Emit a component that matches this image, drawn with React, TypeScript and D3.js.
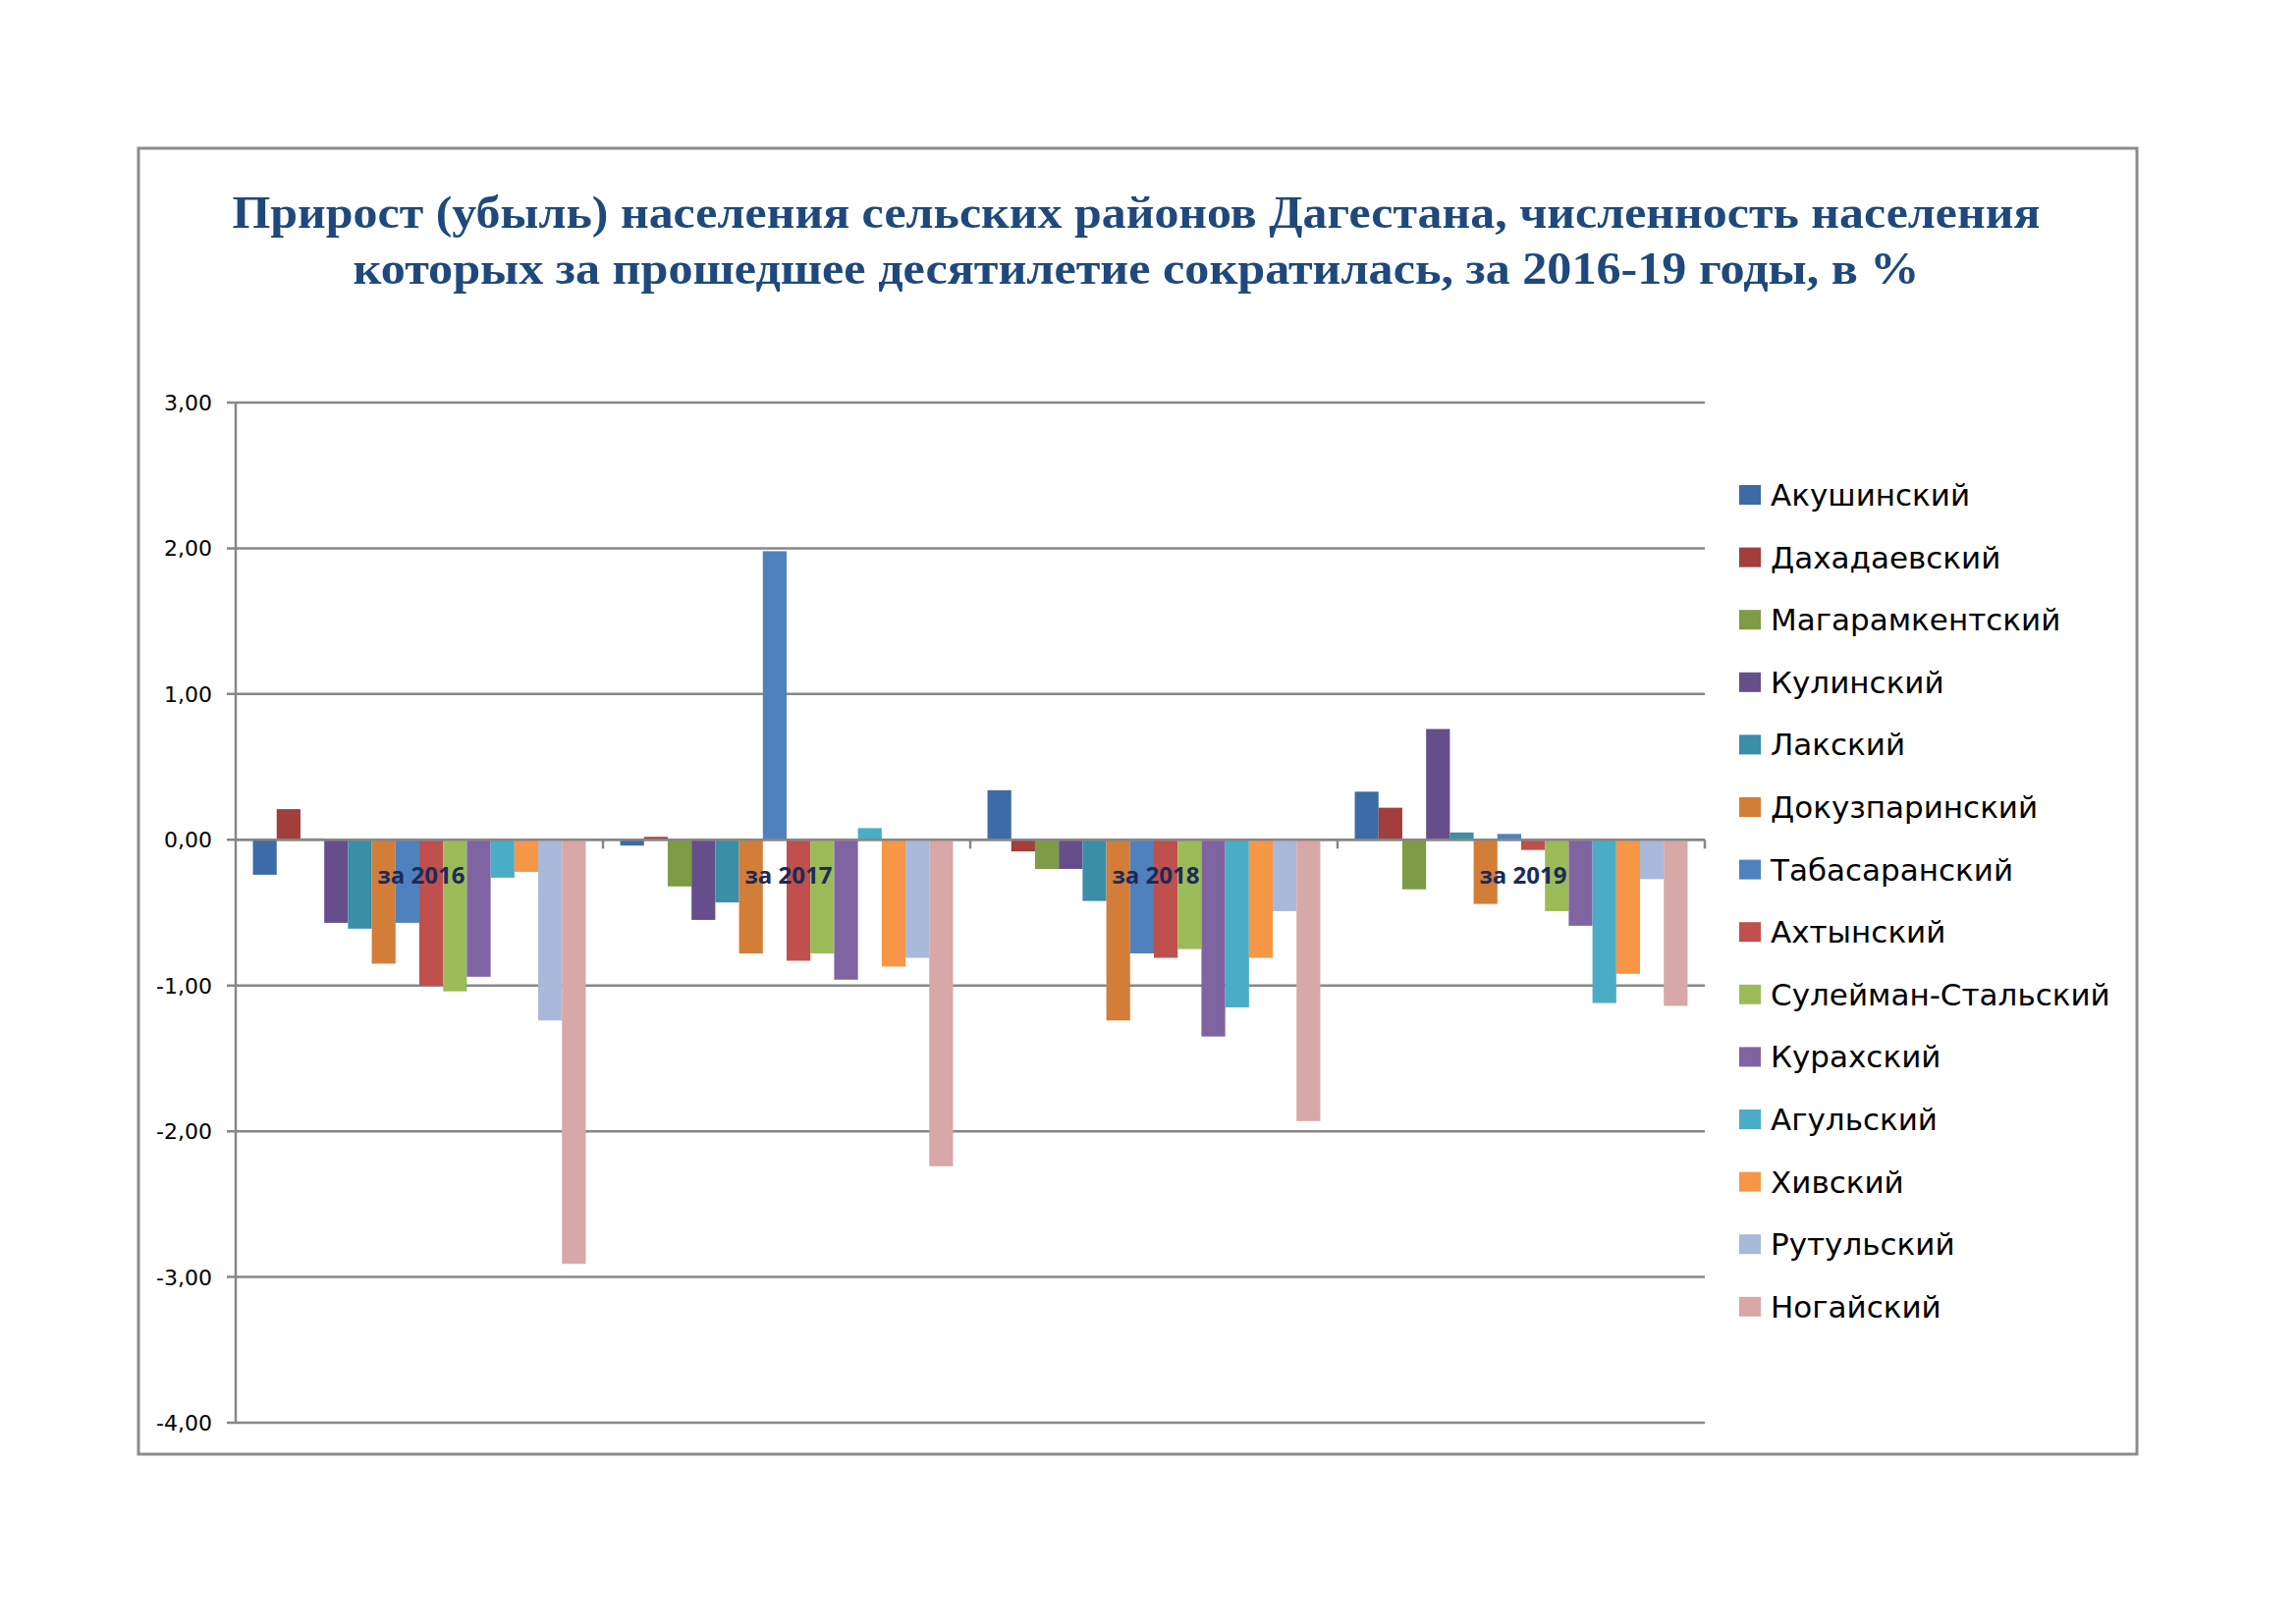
import React from "react";
import * as d3 from "d3";

const years = ["за 2016", "за 2017", "за 2018", "за 2019"];
const districts = [
  "Акушинский",
  "Дахадаевский",
  "Магарамкентский",
  "Кулинский",
  "Лакский",
  "Докузпаринский",
  "Табасаранский",
  "Ахтынский",
  "Сулейман-Стальский",
  "Курахский",
  "Агульский",
  "Хивский",
  "Рутульский",
  "Ногайский",
];
const colors = [
  "#3D6BA6", "#A23E3B", "#7E9B45", "#664E8A", "#3A8EA6", "#D27E38",
  "#4F81BD", "#C0504D", "#9BBB59", "#8064A2", "#4BACC6", "#F79646",
  "#A9B9DA", "#D8A7A7",
];
// values per district, in order of years 2016..2019
const v2016 = [-0.24, 0.21, 0.01, -0.57, -0.61, -0.85, -0.57, -1.0, -1.04, -0.94, -0.26, -0.22, -1.24, -2.91];
const v2017 = [-0.04, 0.02, -0.32, -0.55, -0.43, -0.78, 1.98, -0.83, -0.78, -0.96, 0.08, -0.87, -0.81, -2.24];
const v2018 = [0.34, -0.08, -0.2, -0.2, -0.42, -1.24, -0.78, -0.81, -0.75, -1.35, -1.15, -0.81, -0.49, -1.93];
const v2019 = [0.33, 0.22, -0.34, 0.76, 0.05, -0.44, 0.04, -0.07, -0.49, -0.59, -1.12, -0.92, -0.27, -1.14];
const yTicks = [3, 2, 1, 0, -1, -2, -3, -4];
const titleLines = [
  "Прирост (убыль) населения сельских районов Дагестана, численность населения",
  "которых за прошедшее десятилетие сократилась, за 2016-19 годы, в %",
];

const W = 2338;
const H = 1654;

export default function App() {
  const yearValues = [v2016, v2017, v2018, v2019];
  const left = 240;
  const right = 1736;
  const y = d3.scaleLinear().domain([-4, 3]).range([1449, 410]);
  const x0 = d3.scaleBand<string>().domain(years).range([left, right]).padding(0);
  const x1 = d3
    .scaleBand<string>()
    .domain(districts)
    .range([0, x0.bandwidth()])
    .paddingInner(0)
    .paddingOuter(0.725);
  const fmt = (v: number) => v.toFixed(2).replace(".", ",");
  const gridColor = "#878787";

  return (
    <svg
      width={W}
      height={H}
      style={{ position: "absolute", left: 0, top: 0, background: "#fff" }}
    >
      <rect x={0} y={0} width={W} height={H} fill="#fff" />
      <rect x={141} y={151} width={2035} height={1330} fill="#fff" stroke="#8c8c8c" strokeWidth={3} />

      {titleLines.map((t, i) => (
        <text
          key={i}
          x={1157}
          y={232 + i * 57}
          textAnchor="middle"
          fontFamily="'Liberation Serif', 'Times New Roman', serif"
          fontWeight="bold"
          fontSize={47}
          fill="#1F497D"
          textLength={i === 0 ? 1841 : 1595}
          lengthAdjust="spacingAndGlyphs"
        >
          {t}
        </text>
      ))}

      {/* gridlines and y ticks */}
      {yTicks.map((t) => (
        <g key={t}>
          <line x1={231} x2={right} y1={y(t)} y2={y(t)} stroke={gridColor} strokeWidth={2.5} />
          <text
            x={216}
            y={y(t) + 8}
            textAnchor="end"
            fontFamily="'DejaVu Sans', sans-serif"
            fontSize={22}
            fill="#000"
          >
            {fmt(t)}
          </text>
        </g>
      ))}
      <line x1={left} x2={left} y1={y(3)} y2={y(-4)} stroke={gridColor} strokeWidth={2.5} />

      {/* bars */}
      {years.map((yr, yi) => (
        <g key={yr} transform={`translate(${x0(yr)},0)`}>
          {districts.map((d, di) => {
            const v = yearValues[yi][di];
            const y0 = y(0);
            const yv = y(v);
            return (
              <rect
                key={d}
                x={x1(d)}
                y={Math.min(y0, yv)}
                width={x1.bandwidth()}
                height={Math.abs(yv - y0)}
                fill={colors[di]}
              />
            );
          })}
        </g>
      ))}

      {/* x axis line at 0 */}
      <line x1={left} x2={right} y1={y(0)} y2={y(0)} stroke={gridColor} strokeWidth={2.5} />
      {years.map((yr) => (
        <line
          key={yr}
          x1={(x0(yr) as number) + x0.bandwidth()}
          x2={(x0(yr) as number) + x0.bandwidth()}
          y1={y(0)}
          y2={y(0) + 9}
          stroke={gridColor}
          strokeWidth={2.5}
        />
      ))}
      {years.map((yr) => (
        <text
          key={yr}
          x={(x0(yr) as number) + x0.bandwidth() / 2 + 2}
          y={900}
          textAnchor="middle"
          fontFamily="'Open Sans', sans-serif"
          fontWeight="bold"
          fontSize={24}
          fill="#1B2A5C"
        >
          {yr}
        </text>
      ))}

      {/* legend */}
      {districts.map((d, i) => {
        const cy = 504 + i * 63.6;
        return (
          <g key={d}>
            <rect x={1771} y={cy - 10} width={22} height={20} fill={colors[i]} />
            <text
              x={1803}
              y={cy + 11}
              fontFamily="'DejaVu Sans', sans-serif"
              fontSize={31}
              fill="#000"
            >
              {d}
            </text>
          </g>
        );
      })}
    </svg>
  );
}
